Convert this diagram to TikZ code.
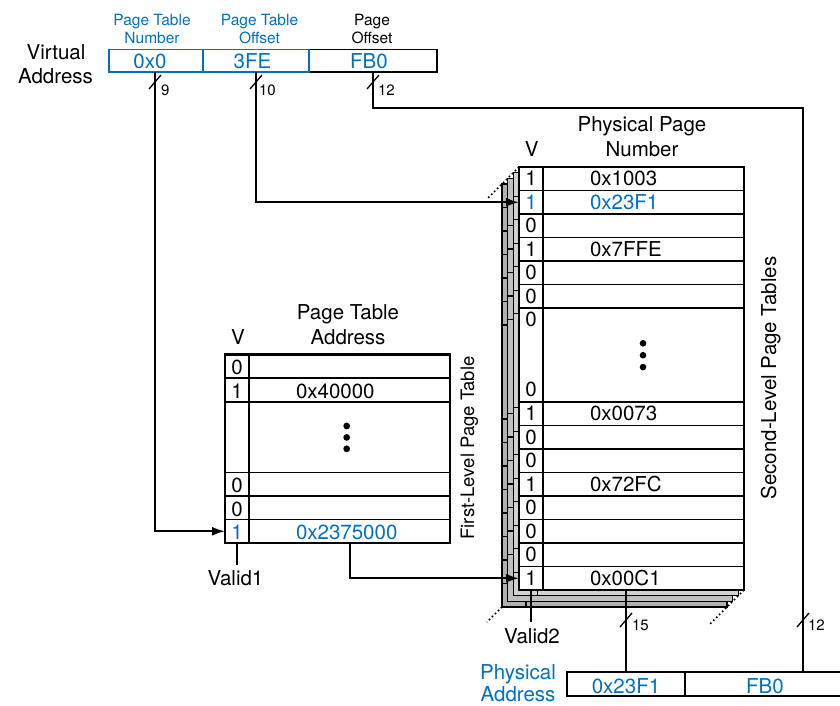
\documentclass[tikz,border=0pt]{standalone}
\usepackage{fontspec}
\setmainfont{TeX Gyre Heros}
\usetikzlibrary{arrows.meta}
\definecolor{pblue}{RGB}{0,112,192}
\newcommand\tabrow[7]{% name, xleft, ytop, height, V, value, baseline offset
  \node[vc, minimum height=#4pt] (#1v) at (#2,#3) {};
  \node[bc, minimum height=#4pt] (#1) at (#2+24,#3) {};
  \node[big, anchor=base] (#1vt) at (#2+12,#3+#7) {#5};
  \node[big, anchor=base west] (#1t) at (#2+71,#3+#7) {#6};
}
\begin{document}
\begin{tikzpicture}[x=1pt,y=-1pt,
  every node/.style={inner sep=0pt, outer sep=0pt},
  big/.style={font=\fontsize{20.5}{24}\selectfont},
  mid/.style={font=\fontsize{18.5}{22}\selectfont},
  small/.style={font=\fontsize{15.5}{18}\selectfont},
  tiny/.style={font=\fontsize{15}{17}\selectfont},
  vc/.style={draw, line width=1.3pt, minimum width=24pt, anchor=north west, fill=white},
  bc/.style={draw, line width=1.3pt, minimum width=201pt, anchor=north west, fill=white},
  field/.style={draw, line width=1.6pt, minimum height=22.5pt, anchor=north west},
  conn/.style={line width=2pt},
  arr/.style={line width=2pt, -{Latex[length=13pt,width=9pt]}},
  bus/.style={line width=1.3pt},
  thinline/.style={line width=1.3pt},
  dotline/.style={line width=1.6pt, dash pattern=on 1.6pt off 2.6pt},
  outline/.style={line width=2.2pt},
]
\useasboundingbox (0,0) rectangle (840,705);

% ---------- Virtual address ----------
\node[big, anchor=base] (va1) at (56,59.5) {Virtual};
\node[big, anchor=base] (va2) at (55.5,83) {Address};

\node[field, draw=black, minimum width=128pt] (f3) at (309,49.5) {};
\node[field, draw=pblue, minimum width=106pt] (f2) at (203,49.5) {};
\node[field, draw=pblue, minimum width=94pt] (f1) at (109,49.5) {};
\node[big, anchor=base, text=pblue] (f1t) at (150,68) {0x0};
\node[big, anchor=base, text=pblue] (f2t) at (252.5,68) {3FE};
\node[big, anchor=base, text=pblue] (f3t) at (369,68) {FB0};

\node[small, anchor=base, text=pblue] (f1l1) at (152,25.5) {Page Table};
\node[small, anchor=base, text=pblue] (f1l2) at (152,43.5) {Number};
\node[small, anchor=base, text=pblue] (f2l1) at (259.5,25.5) {Page Table};
\node[small, anchor=base, text=pblue] (f2l2) at (259.5,43.5) {Offset};
\node[small, anchor=base] (f3l1) at (372,25.5) {Page};
\node[small, anchor=base] (f3l2) at (372,43.5) {Offset};

\coordinate (f1b) at (155,72);
\coordinate (f2b) at (256,72);
\coordinate (f3b) at (373,72);
\coordinate (c3) at (803,108);

% ---------- Second-level page tables: stacked layers ----------
\foreach \k/\g in {3/62,2/50,1/36} {
  \begin{scope}[shift={(-5.7*\k,5.7*\k)}]
    \fill[gray!\g] (519,167) rectangle (744,590);
    \foreach \y in {190.5,214,237.5,261,284.5,308,402,425.5,449,472.5,496,519.5,543,566.5}
      \draw[thinline] (519,\y) -- (744,\y);
    \draw[thinline] (543,167) -- (543,590);
    \draw[line width=1.5pt] (519,167) rectangle (744,590);
  \end{scope}
}

% front second-level table
\tabrow{s1}{519}{167}{23.5}{1}{0x1003}{18.6}
\tabrow{s2}{519}{190.5}{23.5}{\textcolor{pblue}{1}}{\textcolor{pblue}{0x23F1}}{18.6}
\tabrow{s3}{519}{214}{23.5}{0}{}{18.6}
\tabrow{s4}{519}{237.5}{23.5}{1}{0x7FFE}{18.6}
\tabrow{s5}{519}{261}{23.5}{0}{}{18.6}
\tabrow{s6}{519}{284.5}{23.5}{0}{}{18.6}
\tabrow{s7}{519}{308}{94}{0}{}{18.7}
\node[big, anchor=base] (s7vb) at (531,396.7) {0};
\fill (643,343.3) circle (3.3);
\fill (643,355.2) circle (3.3);
\fill (643,367.1) circle (3.3);
\tabrow{s8}{519}{402}{23.5}{1}{0x0073}{18.6}
\tabrow{s9}{519}{425.5}{23.5}{0}{}{18.6}
\tabrow{s10}{519}{449}{23.5}{0}{}{18.6}
\tabrow{s11}{519}{472.5}{23.5}{1}{0x72FC}{18.6}
\tabrow{s12}{519}{496}{23.5}{0}{}{18.6}
\tabrow{s13}{519}{519.5}{23.5}{0}{}{18.6}
\tabrow{s14}{519}{543}{23.5}{0}{}{18.6}
\tabrow{s15}{519}{566.5}{23.5}{1}{0x00C1}{18.6}
\draw[outline] (s1v.north west) rectangle (s15.south east);

\draw[dotline] (519,167) -- (487,199);
\draw[dotline] (744,590) -- (710,624);
\draw[dotline] (502,607) -- (487,622);

\node[big, anchor=base] (svh) at (531.7,156.7) {V};
\node[big, anchor=base] (sph1) at (642,131) {Physical Page};
\node[big, anchor=base] (sph2) at (642,156.7) {Number};
\node[big, anchor=base, rotate=90] (slab) at (776,378) {Second-Level Page Tables};

% ---------- First-level page table ----------
\tabrow{l1}{225}{354.5}{23.5}{0}{}{20.3}
\tabrow{l2}{225}{378}{24}{1}{0x40000}{20.3}
\tabrow{l3}{225}{402}{70.5}{}{}{20.3}
\fill (346.7,426) circle (3.4);
\fill (346.7,437.4) circle (3.4);
\fill (346.7,448.8) circle (3.4);
\tabrow{l4}{225}{472.5}{23.5}{0}{}{20.3}
\tabrow{l5}{225}{496}{23.5}{0}{}{20.3}
\tabrow{l6}{225}{519.5}{23.5}{\textcolor{pblue}{1}}{\textcolor{pblue}{0x2375000}}{20.3}
\draw[outline] (l1v.north west) rectangle (l6.south east);

\node[big, anchor=base] (lvh) at (238,344) {V};
\node[big, anchor=base] (lph1) at (348,319.5) {Page Table};
\node[big, anchor=base] (lph2) at (348,344) {Address};
\node[mid, anchor=base, rotate=90] (llab) at (474,448) {First-Level Page Table};

% Valid labels
\coordinate (v1e) at (237,565);
\draw[thinline] (l6v.south) -- (v1e);
\node[big, anchor=base] (valid1) at (235.5,585) {Valid1};
\coordinate (v2e) at (531,622);
\draw[thinline] (s15v.south) -- (v2e);
\node[big, anchor=base] (valid2) at (532,643.3) {Valid2};

% ---------- Physical address ----------
\node[big, anchor=base, text=pblue] (pal1) at (518,679) {Physical};
\node[big, anchor=base, text=pblue] (pal2) at (518,701) {Address};
\begin{scope}
  \clip (0,0) rectangle (840,705);
  \node[field, draw=black, minimum width=161pt, minimum height=24pt] (pa2) at (685,672) {};
  \node[field, draw=black, minimum width=118pt, minimum height=24pt] (pa1) at (567,672) {};
\end{scope}
\node[big, anchor=base, text=pblue] (pa1t) at (626,693) {0x23F1};
\node[big, anchor=base, text=pblue] (pa2t) at (765,693) {FB0};
\coordinate (pa2top) at (803,672);

% ---------- Connectors ----------
\draw[arr] (f1b) |- (l6v.west);
\draw[arr] (f2b) |- (s2v.west);
\draw[conn] (f3b) |- (c3) -- (pa2top);
\draw[arr] (l6.south) |- (s15v.west);
\draw[conn] (pa1.north) -- (pa1.north |- s15.south);

% bus width marks
\foreach \cx/\cy/\lx/\ly/\t in {155/82/161/95/9, 256/82/259/95/10, 373/82/378/95/12, 626/620/632/630/15, 803/620/808/630/12} {
  \draw[bus] (\cx-6,\cy+7) -- (\cx+6,\cy-7);
  \node[tiny, anchor=base west] at (\lx,\ly) {\t};
}
\end{tikzpicture}
\end{document}
